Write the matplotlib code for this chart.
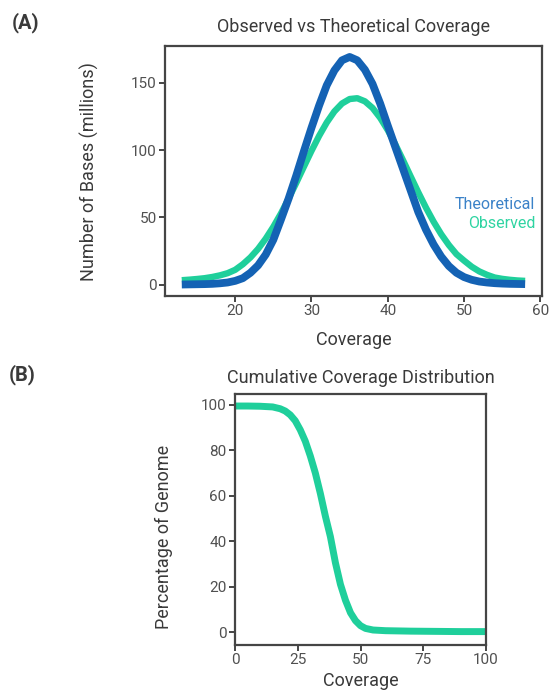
import matplotlib
matplotlib.use("Agg")
import matplotlib.pyplot as plt

plt.rcParams['font.family'] = ['Roboto', 'DejaVu Sans']

# Panel A: coverage histogram (millions of bases)
coverage_a = [13, 14, 15, 16, 17, 18, 19, 20, 21, 22, 23, 24, 25, 26, 27, 28,
              29, 30, 31, 32, 33, 34, 35, 36, 37, 38, 39, 40, 41, 42, 43, 44,
              45, 46, 47, 48, 49, 50, 51, 52, 53, 54, 55, 56, 57, 58]
theoretical = [0.3, 0.4, 0.5, 0.6, 0.8, 1.2, 1.8, 3.0, 5.0, 9.0, 14.5, 22.5,
               33.5, 48.5, 64.0, 81.0, 99.0, 116.5, 133.0, 148.0, 159.0, 166.5,
               169.0, 166.5, 159.5, 149.0, 134.5, 118.0, 102.0, 86.0, 70.0, 54.0,
               41.0, 30.0, 21.0, 14.0, 9.0, 5.8, 3.8, 2.5, 1.8, 1.3, 1.0, 0.8,
               0.7, 0.6]
observed = [3.5, 3.9, 4.4, 5.0, 5.9, 7.1, 8.7, 11.2, 15.3, 20.4, 26.7, 34.3,
            43.1, 53.0, 64.0, 75.6, 87.6, 99.4, 110.5, 120.4, 128.6, 134.5,
            137.8, 138.4, 136.1, 131.2, 123.9, 114.7, 104.0, 92.4, 80.4, 68.6,
            57.3, 46.9, 37.6, 29.6, 22.8, 18.0, 13.5, 10.0, 7.5, 5.5, 4.5, 3.8,
            3.3, 3.0]

# Panel B: cumulative coverage distribution (% of genome)
coverage_b = [0, 5, 10, 15, 18, 20, 22, 24, 26, 28, 30, 32, 34, 36, 38, 40,
              42, 44, 46, 48, 50, 52, 55, 60, 70, 80, 90, 100]
pct_genome = [99.5, 99.5, 99.4, 99.1, 98.3, 97.3, 95.6, 93.0, 89.0, 84.0,
              77.5, 70.0, 61.0, 51.0, 42.0, 30.5, 21.0, 14.0, 8.5, 5.0, 2.8,
              1.6, 0.9, 0.6, 0.4, 0.3, 0.2, 0.2]

xticks_a = [20, 30, 40, 50, 60]
yticks_a = [0, 50, 100, 150]
xticks_b = [0, 25, 50, 75, 100]
yticks_b = [0, 20, 40, 60, 80, 100]

blue = '#1462b4'
green = '#1fcf9b'
text_col = '#3a3a3a'
spine_col = '#454545'

fig = plt.figure(figsize=(5.5, 6.94), dpi=100)


def style(ax):
    for s in ax.spines.values():
        s.set_color(spine_col)
        s.set_linewidth(1.6)
    ax.tick_params(direction='out', length=4, width=1.4, color=spine_col,
                   labelsize=11, labelcolor='#505050', pad=2)


# (A)
ax1 = fig.add_axes([0.300, 0.5735, 0.686, 0.360])
ax1.plot(coverage_a, observed, color=green, lw=4.6, solid_capstyle='butt', zorder=2)
ax1.plot(coverage_a, theoretical, color=blue, lw=5.6, solid_capstyle='butt', zorder=3)
ax1.set_xlim(10.8, 60.25)
ax1.set_ylim(-8.2, 177)
ax1.set_xticks(xticks_a)
ax1.set_yticks(yticks_a)
style(ax1)
ax1.set_title('Observed vs Theoretical Coverage', fontsize=13, color=text_col, pad=10)
ax1.set_xlabel('Coverage', fontsize=13, color=text_col)
ax1.set_ylabel('Number of Bases (millions)', fontsize=13, color=text_col)
ax1.xaxis.set_label_coords(0.5, -0.14)
ax1.yaxis.set_label_coords(-0.175, 0.5)
ax1.text(0.981, 0.368, 'Theoretical', transform=ax1.transAxes, ha='right',
         va='center', fontsize=11.5, color='#3b82c8')
ax1.text(0.981, 0.292, 'Observed', transform=ax1.transAxes, ha='right',
         va='center', fontsize=11.5, color='#2fd4a2')
fig.text(0.021, 0.967, '(A)', fontsize=14.5, fontweight='bold', color=text_col, va='center')

# (B)
ax2 = fig.add_axes([0.4273, 0.0706, 0.4564, 0.3617])
ax2.plot(coverage_b, pct_genome, color=green, lw=5.0, solid_capstyle='butt')
ax2.set_xlim(0, 100)
ax2.set_ylim(-5.7, 104.8)
ax2.set_xticks(xticks_b)
ax2.set_yticks(yticks_b)
style(ax2)
ax2.set_title('Cumulative Coverage Distribution', fontsize=13, color=text_col, pad=8)
ax2.set_xlabel('Coverage', fontsize=13, color=text_col)
ax2.set_ylabel('Percentage of Genome', fontsize=13, color=text_col)
ax2.xaxis.set_label_coords(0.5, -0.108)
ax2.yaxis.set_label_coords(-0.247, 0.43)
fig.text(0.016, 0.46, '(B)', fontsize=14.5, fontweight='bold', color=text_col, va='center')

fig.savefig('out.png', dpi=100)
